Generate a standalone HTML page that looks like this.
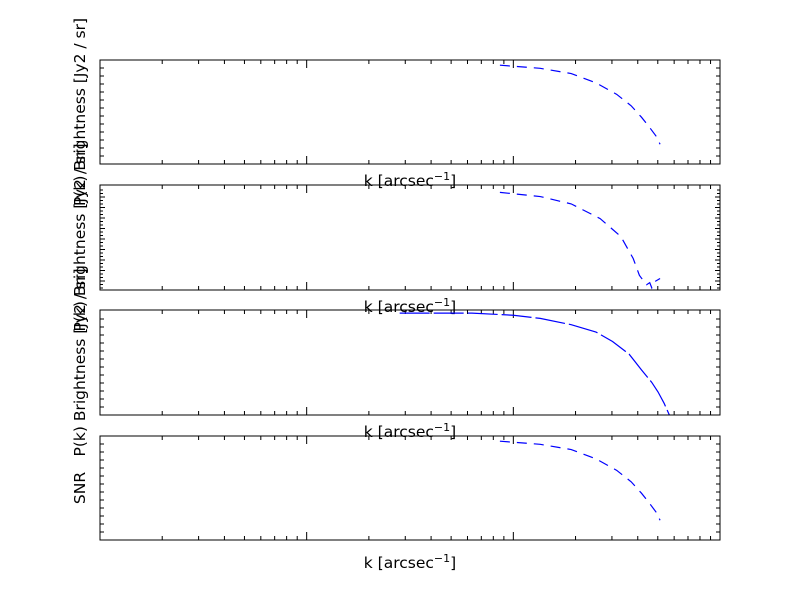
<!DOCTYPE html>
<html><head><meta charset="utf-8"><style>
body{margin:0;background:#fff;}
svg text{font-family:"DejaVu Sans","Liberation Sans",sans-serif;}
</style></head><body>
<svg id="chart" width="800" height="600" xmlns="http://www.w3.org/2000/svg"></svg>
<script>
// log10(k) values and normalized y-values (0 = bottom, 1 = top) per panel
const panel1LogK = [-1.065,-1.0,-0.87,-0.72,-0.6,-0.5,-0.43,-0.38,-0.34,-0.31,-0.29];
const panel1Vals = [0.95,0.94,0.92,0.87,0.78,0.67,0.56,0.45,0.35,0.27,0.19];
const panel2LogK = [-1.065,-0.87,-0.72,-0.58,-0.48,-0.42,-0.39,-0.375,-0.355,-0.34,-0.33,-0.315,-0.29];
const panel2Vals = [0.93,0.89,0.82,0.68,0.51,0.30,0.14,0.10,0.05,0.07,0.02,0.08,0.11];
const panel3LogK = [-1.55,-1.4,-1.2,-1.0,-0.87,-0.72,-0.6,-0.52,-0.44,-0.38,-0.33,-0.3,-0.27,-0.245];
const panel3Vals = [0.97,0.97,0.97,0.95,0.92,0.86,0.79,0.70,0.58,0.43,0.31,0.22,0.11,0.0];
const panel4LogK = panel1LogK;
const panel4Vals = [0.95,0.94,0.92,0.87,0.78,0.67,0.56,0.45,0.35,0.27,0.19];
const yLabels = ["P(k) Brightness [Jy2 / sr]","P(k) Brightness [Jy2 / sr]","P(k) Brightness [Jy2 / sr]","SNR"];

const NS="http://www.w3.org/2000/svg";
const svg=document.getElementById('chart');
const X0=100,X1=720,LOGMIN=-3,LOGMAX=0;
function xs(l){return X0+(l-LOGMIN)/(LOGMAX-LOGMIN)*(X1-X0);}
function mk(t,a,parent){const e=document.createElementNS(NS,t);for(const k in a)e.setAttribute(k,a[k]);(parent||svg).appendChild(e);return e;}
const panels=[{t:60,b:164,lk:panel1LogK,v:panel1Vals,dash:"10,7"},{t:185,b:290,lk:panel2LogK,v:panel2Vals,dash:"10,7"},{t:310,b:415,lk:panel3LogK,v:panel3Vals,dash:"30,4"},{t:436,b:540,lk:panel4LogK,v:panel4Vals,dash:"10,7"}];
panels.forEach((p,i)=>{
  const g=mk('g',{});
  
  
  const ys=v=>p.b-v*(p.b-p.t);
  let d="";
  for(let dec=LOGMIN;dec<LOGMAX;dec++){for(let m=1;m<10;m++){const x=xs(dec+Math.log10(m));if(x<=X0+1)continue;const len=m===1?8:4;d+=`M${x},${p.b}v${-len}M${x},${p.t}v${len}`;}}
  if(i===1){
    for(let y=p.b-2;y>p.t+2;y-=3.5){const L=(Math.round((p.b-y)/3.5)%3===0)?5:3;d+=`M${X0},${y}h${L}M${X1},${y}h${-L}`;}
  } else {
    for(let y=p.b-8;y>p.t+2;y-=8){d+=`M${X0},${y}h4M${X1},${y}h-4`;}
  }
  const tk=mk('path',{d:d,stroke:'#000','stroke-width':1,fill:'none'},g);
  
  
  const pts=p.lk.map((l,j)=>xs(l)+','+ys(p.v[j])).join(' ');
  const line=mk('polyline',{points:pts,fill:'none',stroke:'#0000ff','stroke-width':1.2,'stroke-dasharray':p.dash},g);
  
  
  const fr=mk('rect',{x:X0,y:p.t,width:X1-X0,height:p.b-p.t,fill:'none',stroke:'#000','stroke-width':1},g);
  
  
  const xl=mk('text',{x:410,y:(i===3?p.b+28:p.b+22),'font-size':15.5,'text-anchor':'middle'},g);
  xl.innerHTML='k [arcsec<tspan dy="-6" font-size="11">−1</tspan><tspan dy="6">]</tspan>';
  
  
  const cy=(p.t+p.b)/2;
  const yl=mk('text',{x:85,y:cy,'font-size':15.5,'text-anchor':'middle',transform:`rotate(-90 85 ${cy})`},g);
  yl.textContent=yLabels[i];
  
  
});
</script>
</body></html>
